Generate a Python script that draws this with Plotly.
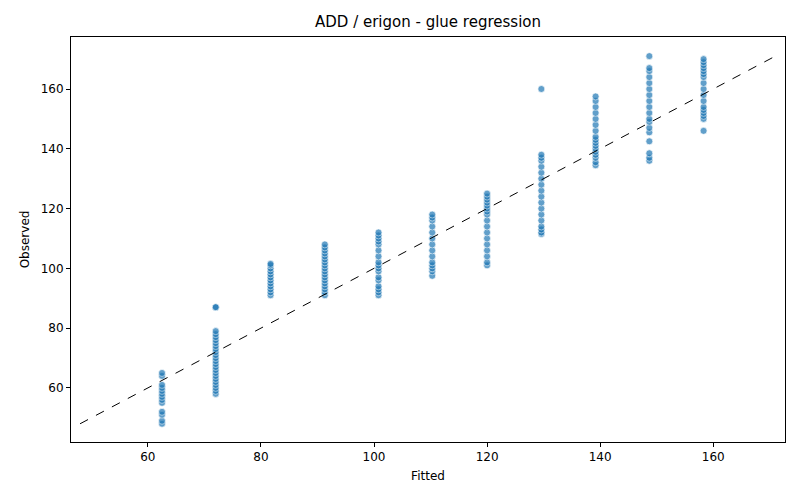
import plotly.graph_objects as go

# fitted levels and the observed values seen at each one
fitted_levels = [62.5, 72.0, 81.7, 91.3, 100.8, 110.3, 120.0, 129.6, 139.2, 148.7, 158.3]
observed = [
    [48, 49, 51, 52, 55, 56, 57, 58, 59, 60, 61, 64, 65],
    [58, 59, 60, 61, 62, 63, 64, 65, 66, 67, 68, 69, 70, 71, 72, 73, 74, 75, 76, 77, 78, 79, 87, 87],
    [91, 92, 93, 94, 95, 96, 97, 98, 99, 100, 101, 101.5],
    [91, 92, 93, 94, 95, 96, 97, 98, 99, 100, 101, 102, 103, 104, 105, 106, 107, 108],
    [91, 92, 93, 94, 96, 97, 99, 100, 101, 102, 104, 106, 108, 109, 110, 111, 112],
    [97.5, 99, 100, 101, 102, 104, 106, 108, 110, 112, 114, 116, 117, 118],
    [101, 102, 104, 106, 108, 110, 112, 114, 116, 118, 119, 120, 121, 122, 123, 124, 125],
    [111.5, 112, 113, 114, 116, 118, 120, 122, 124, 126, 128, 130, 132, 134, 136, 137, 138, 160],
    [134.5, 135.5, 137, 138, 139, 140, 141, 142, 143, 144, 146, 148, 150, 152, 154, 156, 157.5],
    [136, 137, 138.5, 142.5, 145.5, 147, 149, 150, 152, 154, 156, 158, 160, 162, 164, 166, 167, 171],
    [146, 150, 151, 152, 153, 154, 156, 158, 160, 162, 164, 165, 166, 167, 168, 169, 170],
]

xs, ys = [], []
for f, obs in zip(fitted_levels, observed):
    xs += [f] * len(obs)
    ys += obs

lo = min(ys)
hi = max(ys)

fig = go.Figure()
fig.add_trace(go.Scatter(
    x=xs, y=ys, mode='markers',
    marker=dict(size=7, color='#1f77b4', opacity=0.7, line=dict(color='white', width=0.7)),
    showlegend=False,
))
fig.add_trace(go.Scatter(
    x=[lo, hi], y=[lo, hi], mode='lines',
    line=dict(color='black', width=1, dash='dash'), showlegend=False,
))

axis_style = dict(showgrid=False, zeroline=False, showline=True, linecolor='black', mirror=True,
                  ticks='outside', ticklen=4, tickcolor='black', tickfont=dict(size=12, color='black'))
fig.update_layout(
    width=800, height=500,
    paper_bgcolor='white', plot_bgcolor='white',
    font=dict(family='DejaVu Sans', color='black'),
    title=dict(text='ADD / erigon - glue regression', x=0.525, y=0.972, xanchor='center',
               yanchor='middle', font=dict(size=15)),
    margin=dict(l=63, r=23, t=29, b=66),
    xaxis=dict(range=[46.4, 172.7], dtick=20,
               title=dict(text='Fitted', font=dict(size=12), standoff=8), **axis_style),
    yaxis=dict(range=[41.9, 177.4], dtick=20,
               title=dict(text='Observed', font=dict(size=12), standoff=8), **axis_style),
)
fig.write_html("out.html")
